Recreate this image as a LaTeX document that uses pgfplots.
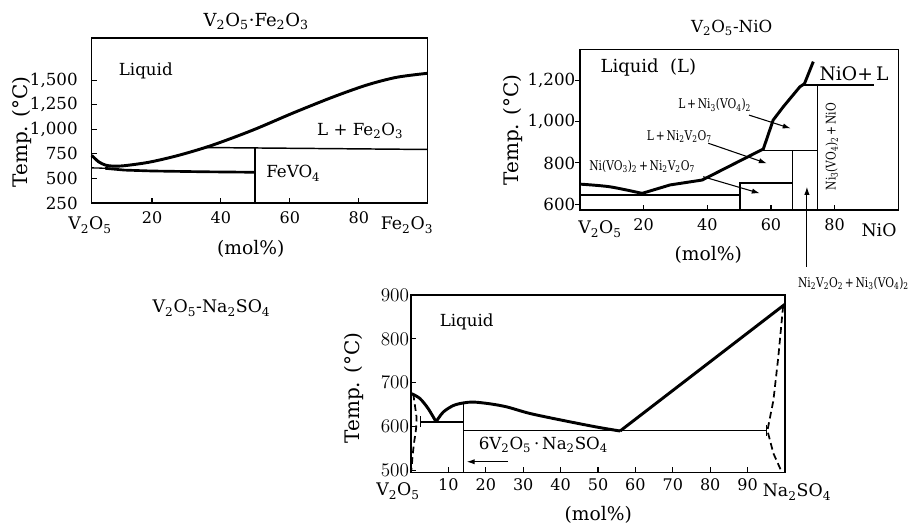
\documentclass[border=0pt]{standalone}
\usepackage{fontspec}
\setmainfont{DejaVu Serif}
\usepackage{pgfplots}
\pgfplotsset{compat=1.18}
\usetikzlibrary{arrows.meta}
\newcommand\sub[1]{\textsubscript{#1}}
\newcommand\fs[1]{\fontsize{#1}{#1}\selectfont}
\pgfplotsset{pd/.style={scale only axis, anchor=south west, clip=false,
  axis line style={line width=1.1pt}, tick style={black,line width=0.8pt},
  major tick length=4pt, tick align=inside, xtick pos=left, ytick pos=left,
  xticklabel style={font=\fs{12}}, yticklabel style={font=\fs{12.5}}}}
\tikzset{arr/.style={line width=0.8pt,-{Latex[length=6pt,width=4pt]}}}
\begin{document}
\begin{tikzpicture}
\useasboundingbox (0,0) rectangle (685.5pt,-394.5pt);
% ---------------- Panel 1: V2O5-Fe2O3
\begin{axis}[pd, at={(68.775pt,-152.25pt)}, width=252pt, height=123.75pt,
  xmin=2.5, xmax=100, ymin=250, ymax=1930,
  xtick={20,40,60,80}, xticklabels={20,40,60,80},
  ytick={250,500,750,1000,1250,1500},
  yticklabels={250,500,750,{1,000},{1,250},{1,500}},
  xticklabel style={yshift=-3pt}, yticklabel style={xshift=-7pt}]
\addplot[line width=2.2pt, smooth] coordinates {(2.5,735)(4.5,670)(6.5,636)(8.5,626)(12,630)(19.4,667)(28.1,739)(37.7,841)(49.3,993)(60.9,1166)(72.5,1329)(82.4,1452)(91,1530)(100,1571)};
\addplot[line width=1.1pt] coordinates {(35.5,815)(100,795)};
\addplot[line width=1.1pt] coordinates {(49.9,250)(49.9,814)};
\addplot[line width=1pt] coordinates {(2.5,608)(10,600)};
\addplot[line width=2pt] coordinates {(6.4,603)(12,585)(20,576)(35,568)(49.9,563)};
\node[font=\fs{12.5}] at (axis cs:18.2,1596) {Liquid};
\node[font=\fs{12.5}] at (axis cs:80.4,985) {L + Fe\sub2O\sub3};
\node[font=\fs{12.5}] at (axis cs:61,552) {FeVO\sub4};
\end{axis}
% ---------------- Panel 2: V2O5-NiO
\begin{axis}[pd, at={(435pt,-157.5pt)}, width=238.7pt, height=120.5pt,
  xmin=0, xmax=100, ymin=571, ymax=1353,
  xtick={20,40,60,80}, xticklabels={20,40,60,80},
  ytick={600,800,1000,1200},
  yticklabels={600,800,{1,000},{1,200}}, ytick style={xshift=-4pt},
  xticklabel style={yshift=-3pt}]
\addplot[line width=2.2pt, smooth] coordinates {(0,697)(9.4,684)(19.5,652)};
\addplot[line width=2.2pt] coordinates {(19.5,652)(28.3,693)(38.4,717)(57.6,868)(60.7,1009)(63.9,1074)(69.1,1171)(70.5,1185)(73.3,1293)};
\addplot[line width=1.1pt] coordinates {(0,645)(50.3,645)};
\addplot[line width=1.1pt] coordinates {(50.3,571)(50.3,703)(66.8,703)};
\addplot[line width=1.1pt] coordinates {(66.8,571)(66.8,860)};
\addplot[line width=1.1pt] coordinates {(57.6,860)(74.6,860)};
\addplot[line width=1.1pt] coordinates {(74.6,571)(74.6,1180)};
\addplot[line width=1.1pt] coordinates {(70.5,1180)(92.5,1180)};
\draw[arr] (axis cs:53.1,1033) -- (axis cs:66.2,968);
\draw[arr] (axis cs:40.3,896) -- (axis cs:58.7,798);
\draw[arr] (axis cs:38.7,733) -- (axis cs:56.5,652);
\draw[arr] (axis cs:71.3,295) -- (axis cs:71.3,684);
\node[font=\fs{13.5}] at (axis cs:21.5,1264) {Liquid\ \ (L)};
\node[font=\fs{14}] at (axis cs:86.1,1236) {NiO+\,L};
\node[font=\fs{10}, xscale=0.8] at (axis cs:42.3,1082) {L\,+\,Ni\sub3(VO\sub4)\sub2};
\node[font=\fs{10}, xscale=0.8] at (axis cs:31.2,928) {L\,+\,Ni\sub2V\sub2O\sub7};
\node[font=\fs{10}, xscale=0.8] at (axis cs:19.5,782) {Ni(VO\sub3)\sub2\,+\,Ni\sub2V\sub2O\sub7};
\node[font=\fs{10}, yscale=0.8, rotate=90] at (axis cs:79.1,879) {Ni\sub3(VO\sub4)\sub2\,+\,NiO};
\node[font=\fs{10}, xscale=0.8] at (axis cs:85.9,214) {Ni\sub2V\sub2O\sub2\,+\,Ni\sub3(VO\sub4)\sub2};
\end{axis}
% ---------------- Panel 3: V2O5-Na2SO4
\begin{axis}[pd, at={(308.25pt,-354.525pt)}, width=280.5pt, height=133.3pt,
  xmin=0, xmax=100, ymin=495, ymax=900,
  xtick={10,20,30,40,50,60,70,80,90}, xticklabels={10,20,30,40,50,60,70,80,90},
  ytick={500,600,700,800,900},
  xticklabel style={yshift=-1pt}, yticklabel style={xshift=2pt, font=\fs{13.5}}]
\addplot[line width=2.2pt, smooth] coordinates {(0.2,675)(2.4,664)(4.6,641)(6.7,611)};
\addplot[line width=2.2pt, smooth] coordinates {(6.7,611)(8.6,633)(11.3,648)(14,654)(16.7,656)(21.1,652)(25.6,645)(31.8,630)(40.7,614)(49.7,599)(55.9,590)};
\addplot[line width=2.2pt] coordinates {(55.9,590)(100,879)};
\addplot[line width=1.1pt] coordinates {(14,495)(14,654)};
\draw[line width=1.1pt, {Bar[width=8pt]}-] (axis cs:2.3,611) -- (axis cs:14,611);
\draw[line width=1.1pt, -{Bar[width=8pt]}] (axis cs:14,591) -- (axis cs:95.3,591);
\addplot[line width=1.3pt, dash pattern=on 5pt off 3pt, smooth] coordinates {(0.6,675)(1.1,645)(1.5,618)(1.3,592)(0.8,562)(0.4,531)(0.2,509)(0,497)};
\addplot[line width=1.3pt, dash pattern=on 5pt off 3pt] coordinates {(99.5,875)(98.2,758)(96.9,660)(95.3,591)(96.9,539)(99.1,497)};
\draw[arr] (axis cs:26,520) -- (axis cs:14.9,520);
\node[font=\fs{12.5}] at (axis cs:14.9,839) {Liquid};
\node[font=\fs{12.5}] at (axis cs:35.4,558) {6V\sub2O\sub5\,·\,Na\sub2SO\sub4};
\end{axis}
% ---------------- outer labels
\begin{scope}[x=0.75pt,y=-0.75pt]
\node[font=\fs{13.5}] at (256.3,21) {V\sub2O\sub5·Fe\sub2O\sub3};
\node[font=\fs{15}, rotate=90] at (21.7,132) {Temp. (°C)};
\node[font=\fs{14}] at (250.8,249) {(mol\%)};
\node[font=\fs{13}] at (90,225) {V\sub2O\sub5};
\node[font=\fs{13}] at (407,225) {Fe\sub2O\sub3};
\node[font=\fs{12.5}] at (731.7,27.5) {V\sub2O\sub5-NiO};
\node[font=\fs{15}, rotate=90] at (513.3,130) {Temp. (°C)};
\node[font=\fs{14}] at (708.3,255) {(mol\%)};
\node[font=\fs{13}] at (600,229) {V\sub2O\sub5};
\node[font=\fs{13}] at (879,230) {NiO};
\node[font=\fs{13}] at (211.5,308) {V\sub2O\sub5-Na\sub2SO\sub4};
\node[font=\fs{15}, rotate=90] at (354,388) {Temp. (°C)};
\node[font=\fs{14}] at (598.3,515) {(mol\%)};
\node[font=\fs{13}] at (398,491) {V\sub2O\sub5};
\node[font=\fs{13}] at (797,492) {Na\sub2SO\sub4};
\end{scope}
\end{tikzpicture}
\end{document}
